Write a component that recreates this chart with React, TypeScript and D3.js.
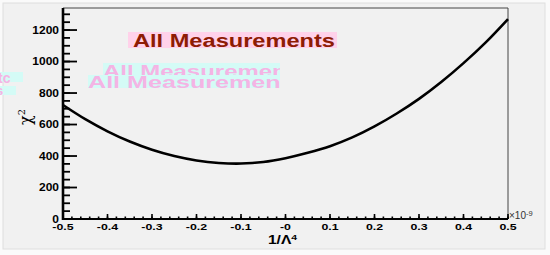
import React from 'react'
import * as d3 from 'd3'

// curve (1/Lambda^4 in units of 1e-9)
const invLambda4 = [-0.5, -0.45, -0.4, -0.35, -0.3, -0.25, -0.2, -0.15, -0.1, -0.05, 0, 0.05, 0.1, 0.15, 0.2, 0.25, 0.3, 0.35, 0.4, 0.45, 0.5]
const chi2 = [724, 634, 557, 492, 440, 400, 372, 356, 352, 362, 386, 420, 462, 518, 588, 670, 763, 870, 990, 1122, 1270]

const xMajorTicks = [-0.5, -0.4, -0.3, -0.2, -0.1, 0, 0.1, 0.2, 0.3, 0.4, 0.5]
const xTickLabels = ['-0.5', '-0.4', '-0.3', '-0.2', '-0.1', '-0', '0.1', '0.2', '0.3', '0.4', '0.5']
const yMajorTicks = [0, 200, 400, 600, 800, 1000, 1200]
const yTickLabels = ['0', '200', '400', '600', '800', '1000', '1200']

const title = 'All Measurements'

const W = 550
const H = 255
const left = 63
const right = 508
const top = 8
const bottom = 219

const App = () => {
  const x = d3.scaleLinear().domain([-0.5, 0.5]).range([left, right])
  const y = d3.scaleLinear().domain([0, 1340]).range([bottom, top])

  const xMinor = d3.range(-0.5, 0.5001, 0.02)
  const yMinor = d3.range(0, 1340, 50)

  const line = d3
    .line<number>()
    .x((_, i) => x(invLambda4[i]))
    .y((d) => y(d))
    .curve(d3.curveCatmullRom)

  const font = '"Liberation Sans", Arial, sans-serif'

  return (
    <svg width={W} height={H} style={{ position: 'absolute', left: 0, top: 0 }} fontFamily={font}>
      <defs>
        <clipPath id="ghostClip">
          <rect x={0} y={0} width={280} height={H} />
        </clipPath>
      </defs>
      <rect x={0} y={0} width={W} height={H} fill="#fafafa" />
      <rect x={3} y={3} width={542} height={246} fill="#f1f1f1" stroke="#dedede" />

      {/* ghost title artifacts */}
      <g clipPath="url(#ghostClip)">
        <rect x={103} y={63} width={180} height={12} fill="#d4fbf6" />
        <text x={103} y={77} fontSize={17} fontWeight="bold" fill="#f4b4e4" textLength={205} lengthAdjust="spacingAndGlyphs">
          {title}
        </text>
        <rect x={88} y={75} width={195} height={13} fill="#d4fbf6" />
        <text x={88} y={88} fontSize={16} fontWeight="bold" fill="#f4b4e4" textLength={215} lengthAdjust="spacingAndGlyphs">
          {title}
        </text>
        <rect x={0} y={72} width={23} height={10} fill="#d4fbf6" />
        <text x={-2} y={83} fontSize={14} fontWeight="bold" fill="#f4b4e4">tc</text>
        <rect x={0} y={86} width={16} height={9} fill="#d4fbf6" />
        <text x={-4} y={95} fontSize={13} fontWeight="bold" fill="#f4b4e4">s</text>
      </g>

      {/* title */}
      <rect x={128} y={32} width={209} height={16} fill="#ffd2ea" />
      <text x={133} y={46.5} fontSize={18} fontWeight="bold" fill="#8e1c04" textLength={202} lengthAdjust="spacingAndGlyphs">
        {title}
      </text>

      {/* frame */}
      <line x1={left} x2={right} y1={top} y2={top} stroke="#444" strokeWidth={1} />
      <line x1={right} x2={right} y1={top} y2={bottom} stroke="#444" strokeWidth={1} />

      {/* curve */}
      <path d={line(chi2) ?? ''} fill="none" stroke="#000" strokeWidth={2.6} />

      {/* y axis */}
      {yMinor.map((v) => (
        <line key={'ym' + v} x1={left} x2={left + 7} y1={y(v)} y2={y(v)} stroke="#000" strokeWidth={1.8} />
      ))}
      {yMajorTicks.map((v, i) => (
        <g key={'y' + v}>
          <line x1={left} x2={left + 14} y1={y(v)} y2={y(v)} stroke="#000" strokeWidth={1.8} />
          <text
            transform={`translate(59,${v === 0 ? 222.5 : y(v) + 3.8}) scale(1.2,1)`}
            fontSize={10}
            fontWeight="bold"
            textAnchor="end"
            fill="#000"
          >
            {yTickLabels[i]}
          </text>
        </g>
      ))}
      <line x1={left} x2={left} y1={top} y2={bottom + 1} stroke="#000" strokeWidth={2.6} />

      {/* x axis */}
      {xMinor.map((v, i) => (
        <line key={'xm' + i} x1={x(v)} x2={x(v)} y1={bottom} y2={bottom - 2.5} stroke="#000" strokeWidth={1.6} />
      ))}
      {xMajorTicks.map((v, i) => (
        <g key={'x' + i}>
          <line x1={x(v)} x2={x(v)} y1={bottom} y2={bottom - 5} stroke="#000" strokeWidth={1.6} />
          <text
            transform={`translate(${x(v)},${bottom + 11}) scale(1.3,1)`}
            fontSize={9.5}
            fontWeight="bold"
            textAnchor="middle"
            fill="#000"
          >
            {xTickLabels[i]}
          </text>
        </g>
      ))}
      <line x1={left - 1} x2={right} y1={bottom} y2={bottom} stroke="#000" strokeWidth={2.2} />
      <text x={right + 1} y={bottom} fontSize={10} fill="#333">
        ×10<tspan dy={-3.5} fontSize={7.5}>-9</tspan>
      </text>

      {/* axis titles */}
      <text transform={`translate(${x(0) - 3},244) scale(1.3,1)`} fontSize={12} fontWeight="bold" textAnchor="middle" fill="#000">
        1/Λ<tspan dy={-4.5} fontSize={8}>4</tspan>
      </text>
      <text transform="translate(31,117) rotate(-90)" fontSize={16} textAnchor="middle" fill="#000" fontFamily='"DejaVu Serif", serif'>
        χ<tspan dy={-6} fontSize={10}>2</tspan>
      </text>
    </svg>
  )
}

export default App
